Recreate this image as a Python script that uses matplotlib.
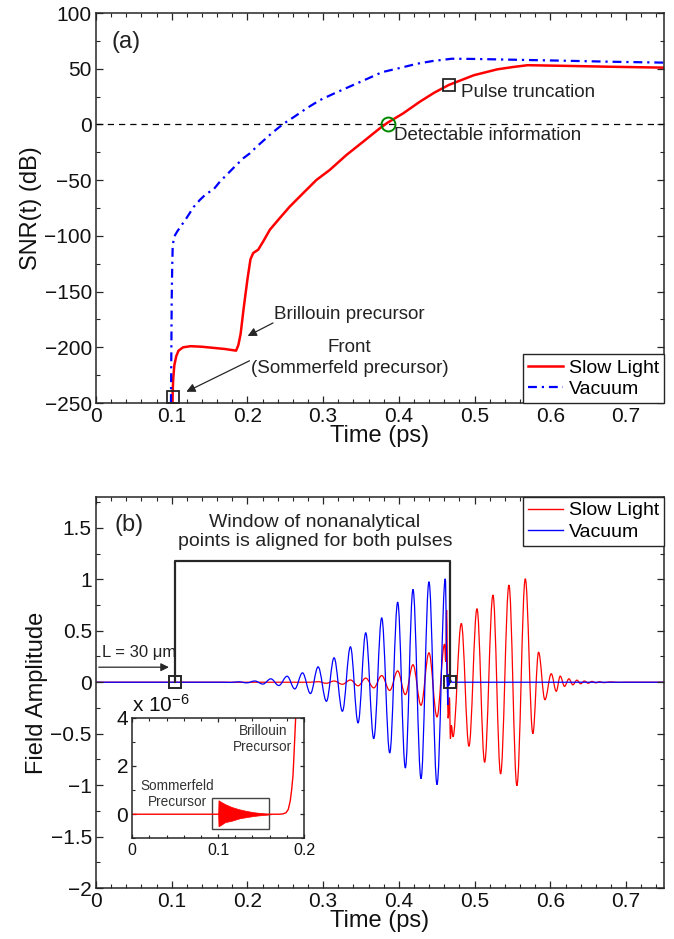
import matplotlib
matplotlib.use('Agg')
import matplotlib.pyplot as plt
from matplotlib.path import Path
from matplotlib.patches import PathPatch, Rectangle
from matplotlib.lines import Line2D
from matplotlib.ticker import MultipleLocator

# ---------------- data: panel (a) SNR(t) ----------------
vac_time = [0.0990, 0.0993, 0.0996, 0.1000, 0.1006, 0.1013, 0.1030, 0.1073, 0.1196, 0.1290,
            0.1372, 0.1460, 0.1548, 0.1640, 0.1724, 0.1830, 0.1944, 0.2030, 0.2120, 0.2220,
            0.2318, 0.2471, 0.2620, 0.2779, 0.2955, 0.3150, 0.3350, 0.3550, 0.3780, 0.4000,
            0.4240, 0.4450, 0.4700, 0.5000, 0.5600, 0.6200, 0.6800, 0.7500]
vac_snr = [-250, -225, -195, -157, -130, -109.5, -101, -96, -84, -74,
           -67.7, -62, -58.7, -51, -45.3, -38, -30.4, -26, -20, -14,
           -8, 0.4, 7, 14.4, 21.8, 28, 34, 40, 47, 50.5,
           54.5, 57, 59, 58.8, 58, 57.2, 56.3, 55.5]

slow_time = [0.1010, 0.1013, 0.1020, 0.1035, 0.1060, 0.1090, 0.1150, 0.1250, 0.1400, 0.1550,
             0.1700, 0.1800, 0.1850, 0.1880, 0.1910, 0.1950, 0.2000, 0.2040, 0.2076, 0.2142,
             0.2208, 0.2296, 0.2427, 0.2559, 0.2735, 0.2911, 0.3087, 0.3307, 0.3527, 0.3747,
             0.3848, 0.4055, 0.4274, 0.4466, 0.4660, 0.4990, 0.5300, 0.5500, 0.5700, 0.6200,
             0.6800, 0.7500]
slow_snr = [-250, -240, -228, -216, -208, -203, -200, -199, -199.5, -200.5,
            -201.5, -202.5, -203, -198, -188, -165, -139, -121, -115.4, -112.4,
            -105, -94.5, -84, -73.7, -61.7, -49.8, -40.8, -27.4, -15.5, -3.5,
            1.5, 9.9, 20.3, 28.5, 35.5, 44.2, 49.5, 51.5, 53.2, 52.6,
            51.8, 51.0]

# ---------------- data: panel (b) field (successive extrema) ----------------
vac_field_t = [0.0, 0.1675, 0.1780, 0.1886, 0.1992, 0.2098, 0.2203,
               0.2309, 0.2414, 0.2524, 0.2625, 0.2727, 0.2832, 0.2933, 0.3043, 0.3144, 0.3254,
               0.3360, 0.3461, 0.3562, 0.3668, 0.3773, 0.3879, 0.3984, 0.4085, 0.4186, 0.4292,
               0.4397, 0.4503, 0.4613, 0.4638, 0.4645, 0.4652, 0.4662, 0.4680, 0.4700, 0.7500]
vac_field_v = [0.0, 0.0, -0.002, 0.004, -0.006, 0.012, -0.018,
               0.033, -0.032, 0.058, -0.065, 0.091, -0.110, 0.149, -0.185, 0.237, -0.282,
               0.344, -0.395, 0.480, -0.548, 0.626, -0.687, 0.778, -0.833, 0.902, -0.937,
               0.976, -0.995, 1.005, 0.0, -0.22, 0.08, -0.03, 0.02, 0.0, 0.0]

slow_field_t = [0.0, 0.2830, 0.2933, 0.3043, 0.3144, 0.3254, 0.3360, 0.3461, 0.3562, 0.3668,
                0.3773, 0.3879, 0.3984, 0.4085, 0.4186, 0.4292, 0.4397, 0.4503, 0.4603, 0.4618,
                0.4630, 0.4650, 0.4668, 0.4680, 0.4693, 0.4714, 0.4824, 0.4925, 0.5031, 0.5132,
                0.5242, 0.5343, 0.5453, 0.5558, 0.5669, 0.5769, 0.5844, 0.5928, 0.6012, 0.6078,
                0.6130, 0.6187, 0.6245, 0.6297, 0.6351, 0.6400, 0.6450, 0.6500, 0.6550, 0.6600,
                0.6650, 0.6700, 0.6800, 0.6900, 0.7000, 0.7500]
slow_field_v = [0.0, 0.0, 0.005, -0.010, 0.012, -0.020, 0.022, -0.035, 0.040, -0.055,
                0.065, -0.080, 0.110, -0.120, 0.170, -0.224, 0.286, -0.337, 0.370, 0.200,
                0.700, -0.350, -0.150, -0.550, -0.420, -0.530, 0.571, -0.622, 0.714, -0.778,
                0.847, -0.891, 0.944, -1.005, 1.005, -0.500, 0.292, -0.170, 0.082, -0.088,
                0.059, -0.040, 0.033, -0.025, 0.020, -0.015, 0.012, -0.010, 0.008, -0.006,
                0.005, -0.004, 0.003, -0.002, 0.0, 0.0]

# ---------------- data: inset (field x 1e-6) ----------------
inset_t = [0.0, 0.1000, 0.1600, 0.1700, 0.1750, 0.1790, 0.1817, 0.1840, 0.1857, 0.1872, 0.1883, 0.1903, 0.1920]
inset_v = [0.0, 0.0, 0.0, 0.0, 0.01, 0.06, 0.20, 0.55, 1.03, 1.60, 2.40, 4.00, 5.60]
somm_t = [0.1000, 0.1004, 0.1030, 0.1080, 0.1157, 0.1250, 0.1313, 0.1400, 0.1468, 0.1565, 0.1620]
somm_hi = [0.0, 0.58, 0.52, 0.42, 0.30, 0.20, 0.15, 0.09, 0.06, 0.02, 0.0]
somm_lo = [0.0, -0.50, -0.45, -0.33, -0.27, -0.17, -0.13, -0.08, -0.05, -0.02, 0.0]

# markers / annotations positions (data coordinates)
trunc_pt = (0.466, 35.5)
detect_pt = (0.385, 0.0)
front_pt = (0.1013, -244.8)
window_t = [0.105, 0.467]
window_top = 1.18

plt.rcParams['font.family'] = ['Liberation Sans', 'DejaVu Sans']
plt.rcParams['mathtext.fontset'] = 'custom'
plt.rcParams['mathtext.rm'] = 'Liberation Sans'
plt.rcParams['mathtext.it'] = 'Liberation Sans:italic'

DARK = '#262626'
fig = plt.figure(figsize=(6.74, 9.39), dpi=100)


def style_axes(ax, xmaj, xmin, ymaj, ymin, lsize):
    ax.xaxis.set_major_locator(MultipleLocator(xmaj))
    ax.xaxis.set_minor_locator(MultipleLocator(xmin))
    ax.yaxis.set_major_locator(MultipleLocator(ymaj))
    ax.yaxis.set_minor_locator(MultipleLocator(ymin))
    ax.tick_params(which='both', direction='in', top=True, right=True,
                   colors=DARK, labelcolor='#111111', labelsize=lsize, pad=3)
    ax.tick_params(which='major', length=5, width=0.9)
    ax.tick_params(which='minor', length=3, width=0.8)
    for s in ax.spines.values():
        s.set_color(DARK)
        s.set_linewidth(1.1)


def smooth_path(ts, vs, k=0.3642):
    verts = [(ts[0], vs[0])]
    codes = [Path.MOVETO]
    for i in range(1, len(ts)):
        t0, v0, t1, v1 = ts[i - 1], vs[i - 1], ts[i], vs[i]
        d = (t1 - t0) * k
        verts += [(t0 + d, v0), (t1 - d, v1), (t1, v1)]
        codes += [Path.CURVE4] * 3
    return Path(verts, codes)

# ================= panel (a) =================
ax1 = fig.add_axes([0.1424, 0.5708, 0.8427, 0.4153])
ax1.axhline(0, color='black', lw=0.9, ls=(0, (5, 4)))
l_slow, = ax1.plot(slow_time, slow_snr, color='#ff0000', lw=1.8, label='Slow Light')
l_vac, = ax1.plot(vac_time, vac_snr, color='#0000ff', lw=1.6, dashes=(4, 2.2, 1, 2.2), label='Vacuum')
ax1.set_xlim(0, 0.75)
ax1.set_ylim(-250, 100)
style_axes(ax1, 0.1, 0.02, 50, 25, 15)
ax1.set_xticks([0, 0.1, 0.2, 0.3, 0.4, 0.5, 0.6, 0.7])
ax1.set_xticklabels(['0', '0.1', '0.2', '0.3', '0.4', '0.5', '0.6', '0.7'])
ax1.set_xlabel('Time (ps)', fontsize=17, labelpad=-1, color='#111111')
ax1.set_ylabel('SNR(t) (dB)', fontsize=17, labelpad=2, color='#111111')

ax1.text(0.021, 74, '(a)', fontsize=17, ha='left', va='center', color='#222222')
ax1.plot(*trunc_pt, 's', mfc='none', mec=DARK, ms=9, mew=1.3)
ax1.text(0.482, 29, 'Pulse truncation', fontsize=13.5, ha='left', va='center', color='#222222')
ax1.plot(*detect_pt, 'o', mfc='none', mec='#008800', ms=10, mew=1.4)
ax1.text(0.394, -10, 'Detectable information', fontsize=13.5, ha='left', va='center', color='#222222')
ax1.plot(*front_pt, 's', mfc='none', mec=DARK, ms=9, mew=1.3)

ax1.annotate('', xy=(0.197, -191), xytext=(0.237, -177),
             arrowprops=dict(arrowstyle='-|>', color=DARK, lw=0.9, mutation_scale=13))
ax1.text(0.335, -171, 'Brillouin precursor', fontsize=13.5, ha='center', va='center', color='#222222')
ax1.annotate('', xy=(0.116, -241), xytext=(0.206, -211),
             arrowprops=dict(arrowstyle='-|>', color=DARK, lw=0.9, mutation_scale=13))
ax1.text(0.335, -200, 'Front', fontsize=13.5, ha='center', va='center', color='#222222')
ax1.text(0.335, -219, '(Sommerfeld precursor)', fontsize=13.5, ha='center', va='center', color='#222222')

leg1 = ax1.legend(handles=[l_slow, l_vac], loc='lower right', borderaxespad=0, fancybox=False,
                  edgecolor=DARK, framealpha=1, fontsize=14, handlelength=1.8,
                  handletextpad=0.3, borderpad=0.25, labelspacing=0.2)
leg1.get_frame().set_linewidth(1.0)

# ================= panel (b) =================
ax2 = fig.add_axes([0.1424, 0.0543, 0.8427, 0.4164])
ax2.add_patch(PathPatch(smooth_path(slow_field_t, slow_field_v), fill=False,
                        edgecolor='#ff0000', lw=0.9))
ax2.add_patch(PathPatch(smooth_path(vac_field_t, vac_field_v), fill=False,
                        edgecolor='#0000ff', lw=0.9))
ax2.set_xlim(0, 0.75)
ax2.set_ylim(-2, 1.8)
style_axes(ax2, 0.1, 0.02, 0.5, 0.25, 15)
ax2.set_xticks([0, 0.1, 0.2, 0.3, 0.4, 0.5, 0.6, 0.7])
ax2.set_xticklabels(['0', '0.1', '0.2', '0.3', '0.4', '0.5', '0.6', '0.7'])
ax2.set_yticks([-2, -1.5, -1, -0.5, 0, 0.5, 1, 1.5])
ax2.set_yticklabels(['\u22122', '\u22121.5', '\u22121', '\u22120.5', '0', '0.5', '1', '1.5'])
ax2.set_xlabel('Time (ps)', fontsize=17, labelpad=-1, color='#111111')
ax2.set_ylabel('Field Amplitude', fontsize=17, labelpad=2, color='#111111')

ax2.text(0.024, 1.53, '(b)', fontsize=17, ha='left', va='center', color='#222222')
ax2.plot([window_t[0], window_t[0], window_t[1], window_t[1]],
         [0, window_top, window_top, 0], color=DARK, lw=1.6)
ax2.plot([window_t[0], window_t[1]], [0, 0], 's', mfc='none', mec=DARK, ms=9, mew=1.4, ls='none')
ax2.text(0.289, 1.46, 'Window of nonanalytical\npoints is aligned for both pulses',
         fontsize=14, ha='center', va='center', color='#222222', linespacing=1.15)
ax2.annotate('', xy=(0.1, 0.146), xytext=(0.0, 0.146),
             arrowprops=dict(arrowstyle='-|>', color=DARK, lw=0.9, mutation_scale=12))
ax2.text(0.057, 0.286, 'L = 30 \u03bcm', fontsize=12, ha='center', va='center', color='#222222')

h_slow = Line2D([], [], color='#ff0000', lw=1.0)
h_vac = Line2D([], [], color='#0000ff', lw=1.0)
leg2 = ax2.legend([h_slow, h_vac], ['Slow Light', 'Vacuum'], loc='upper right', borderaxespad=0,
                  fancybox=False, edgecolor=DARK, framealpha=1, fontsize=14, handlelength=1.8,
                  handletextpad=0.3, borderpad=0.25, labelspacing=0.2)
leg2.get_frame().set_linewidth(1.0)

# ================= inset =================
ax3 = fig.add_axes([0.1963, 0.1072, 0.2547, 0.1284])
ax3.fill_between(somm_t, somm_lo, somm_hi, color='#ff0000', lw=0.5)
ax3.plot(inset_t, inset_v, color='#ff0000', lw=1.0)
ax3.set_xlim(0, 0.2)
ax3.set_ylim(-1, 4)
style_axes(ax3, 0.1, 0.02, 2, 1, 12)
ax3.tick_params(axis='x', labelsize=11.5)
ax3.tick_params(axis='y', labelsize=15)
ax3.tick_params(which='major', length=3)
ax3.tick_params(which='minor', length=2)
ax3.set_xticks([0, 0.1, 0.2])
ax3.set_xticklabels(['0', '0.1', '0.2'])
ax3.set_yticks([0, 2, 4])
ax3.set_yticklabels(['0', '2', '4'])
ax3.add_patch(Rectangle((0.093, -0.62), 0.066, 1.28, fill=False, edgecolor='#444444', lw=1.0))
ax3.text(0.052, 0.85, 'Sommerfeld\nPrecursor', fontsize=9.8, ha='center', va='center',
         color='#333333', linespacing=1.2)
ax3.text(0.152, 3.12, 'Brillouin\nPrecursor', fontsize=9.8, ha='center', va='center',
         color='#333333', linespacing=1.2)
ax3.text(0.0, 1.02, 'x 10$^{\u22126}$', transform=ax3.transAxes, fontsize=15,
         ha='left', va='bottom', color='#111111')

fig.savefig('out.png', dpi=100)
